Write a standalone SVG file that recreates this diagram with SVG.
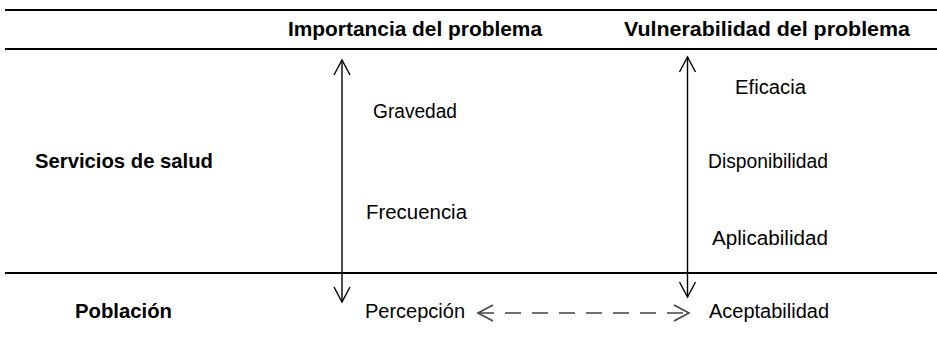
<svg xmlns="http://www.w3.org/2000/svg" width="937" height="347" viewBox="0 0 937 347">
<style>
.b{font-family:"Liberation Sans",Arial,sans-serif;font-weight:bold;font-size:20.5px;fill:#000}
.r{font-family:"Liberation Sans",Arial,sans-serif;font-size:19.5px;fill:#000}
.rule{stroke:#000;stroke-width:2;fill:none}
.arr{stroke:#000;stroke-width:1.4;fill:none}
.dash{stroke:#444;stroke-width:1.6;fill:none;stroke-dasharray:16 11}
</style>
<defs>
<marker id="chev" markerUnits="userSpaceOnUse" markerWidth="20" markerHeight="20" viewBox="-16 -10 20 20" refX="0" refY="0" orient="auto-start-reverse">
<path d="M-15,-8 L0,0 L-15,8" fill="none" stroke="#000" stroke-width="1.4"/>
</marker>
<marker id="chevg" markerUnits="userSpaceOnUse" markerWidth="20" markerHeight="20" viewBox="-16 -10 20 20" refX="0" refY="0" orient="auto-start-reverse">
<path d="M-15,-8 L0,0 L-15,8" fill="none" stroke="#444" stroke-width="1.6"/>
</marker>
</defs>
<g id="rules">
<line class="rule" x1="5" y1="10" x2="937" y2="10"/>
<line class="rule" x1="5" y1="49" x2="937" y2="49"/>
<line class="rule" x1="5" y1="273" x2="937" y2="273"/>
</g>
<g id="headers">
<text id="h1" class="b" x="288" y="36" textLength="254" lengthAdjust="spacingAndGlyphs">Importancia del problema</text>
<text id="h2" class="b" x="624" y="36" textLength="286" lengthAdjust="spacingAndGlyphs">Vulnerabilidad del problema</text>
</g>
<g id="rows">
<text id="servicios" class="b" x="35" y="168" textLength="178" lengthAdjust="spacingAndGlyphs">Servicios de salud</text>
<text id="poblacion" class="b" x="75" y="318" textLength="97" lengthAdjust="spacingAndGlyphs">Población</text>
</g>
<g id="nodes">
<g id="gravedad"><text class="r" x="373" y="118" textLength="84" lengthAdjust="spacingAndGlyphs">Gravedad</text></g>
<g id="frecuencia"><text class="r" x="366" y="219" textLength="101" lengthAdjust="spacingAndGlyphs">Frecuencia</text></g>
<g id="percepcion"><text class="r" x="365" y="318" textLength="100" lengthAdjust="spacingAndGlyphs">Percepción</text></g>
<g id="eficacia"><text class="r" x="735" y="94" textLength="71" lengthAdjust="spacingAndGlyphs">Eficacia</text></g>
<g id="disponibilidad"><text class="r" x="708" y="168" textLength="120" lengthAdjust="spacingAndGlyphs">Disponibilidad</text></g>
<g id="aplicabilidad"><text class="r" x="712" y="245" textLength="116" lengthAdjust="spacingAndGlyphs">Aplicabilidad</text></g>
<g id="aceptabilidad"><text class="r" x="709" y="318" textLength="120" lengthAdjust="spacingAndGlyphs">Aceptabilidad</text></g>
</g>
<g id="connectors">
<line class="arr" x1="342" y1="60" x2="342" y2="302" marker-start="url(#chev)" marker-end="url(#chev)"/>
<line class="arr" x1="687.5" y1="57" x2="687.5" y2="297" marker-start="url(#chev)" marker-end="url(#chev)"/>
<line class="dash" x1="478" y1="313" x2="689" y2="313" marker-start="url(#chevg)" marker-end="url(#chevg)"/>
</g>
</svg>
